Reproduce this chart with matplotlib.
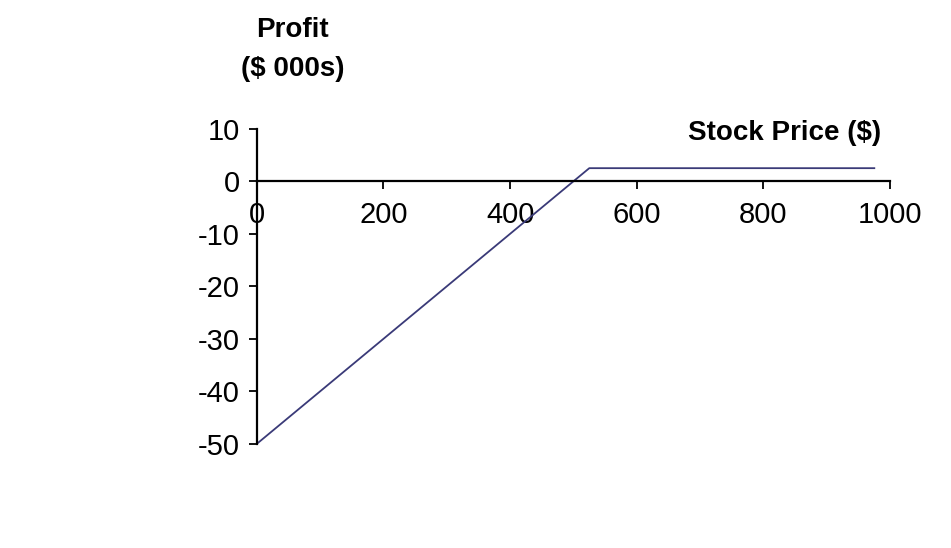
import matplotlib
matplotlib.use("Agg")
import matplotlib.pyplot as plt

# stock price ($) and profit ($ 000s)
price = [0, 525, 975]
profit = [-50, 2.5, 2.5]

x_ticks = [0, 200, 400, 600, 800, 1000]
y_ticks = [-50, -40, -30, -20, -10, 0, 10]

plt.rcParams['font.family'] = ['Liberation Sans', 'DejaVu Sans']
plt.rcParams['axes.unicode_minus'] = False

fig = plt.figure(figsize=(9.51, 5.48), dpi=100)
ax = fig.add_axes([0.270, 0.190, 0.666, 0.575])

ax.plot(price, profit, color='#3a3a78', linewidth=1.3)

ax.set_xlim(0, 1000)
ax.set_ylim(-50, 10)
ax.set_xticks(x_ticks)
ax.set_yticks(y_ticks)

ax.spines['top'].set_visible(False)
ax.spines['right'].set_visible(False)
ax.spines['bottom'].set_position(('data', 0))
ax.spines['left'].set_linewidth(1.6)
ax.spines['bottom'].set_linewidth(1.6)

ax.tick_params(axis='x', direction='out', length=6, width=1.3, pad=8, labelsize=21)
ax.tick_params(axis='y', direction='out', length=6, width=1.3, pad=6, labelsize=21)

fig.text(0.308, 0.945, "Profit", ha='center', va='center', fontsize=20, fontweight='bold')
fig.text(0.308, 0.875, "($ 000s)", ha='center', va='center', fontsize=20, fontweight='bold')
fig.text(0.926, 0.757, "Stock Price ($)", ha='right', va='center', fontsize=20, fontweight='bold')

fig.savefig("out.png", dpi=100)
